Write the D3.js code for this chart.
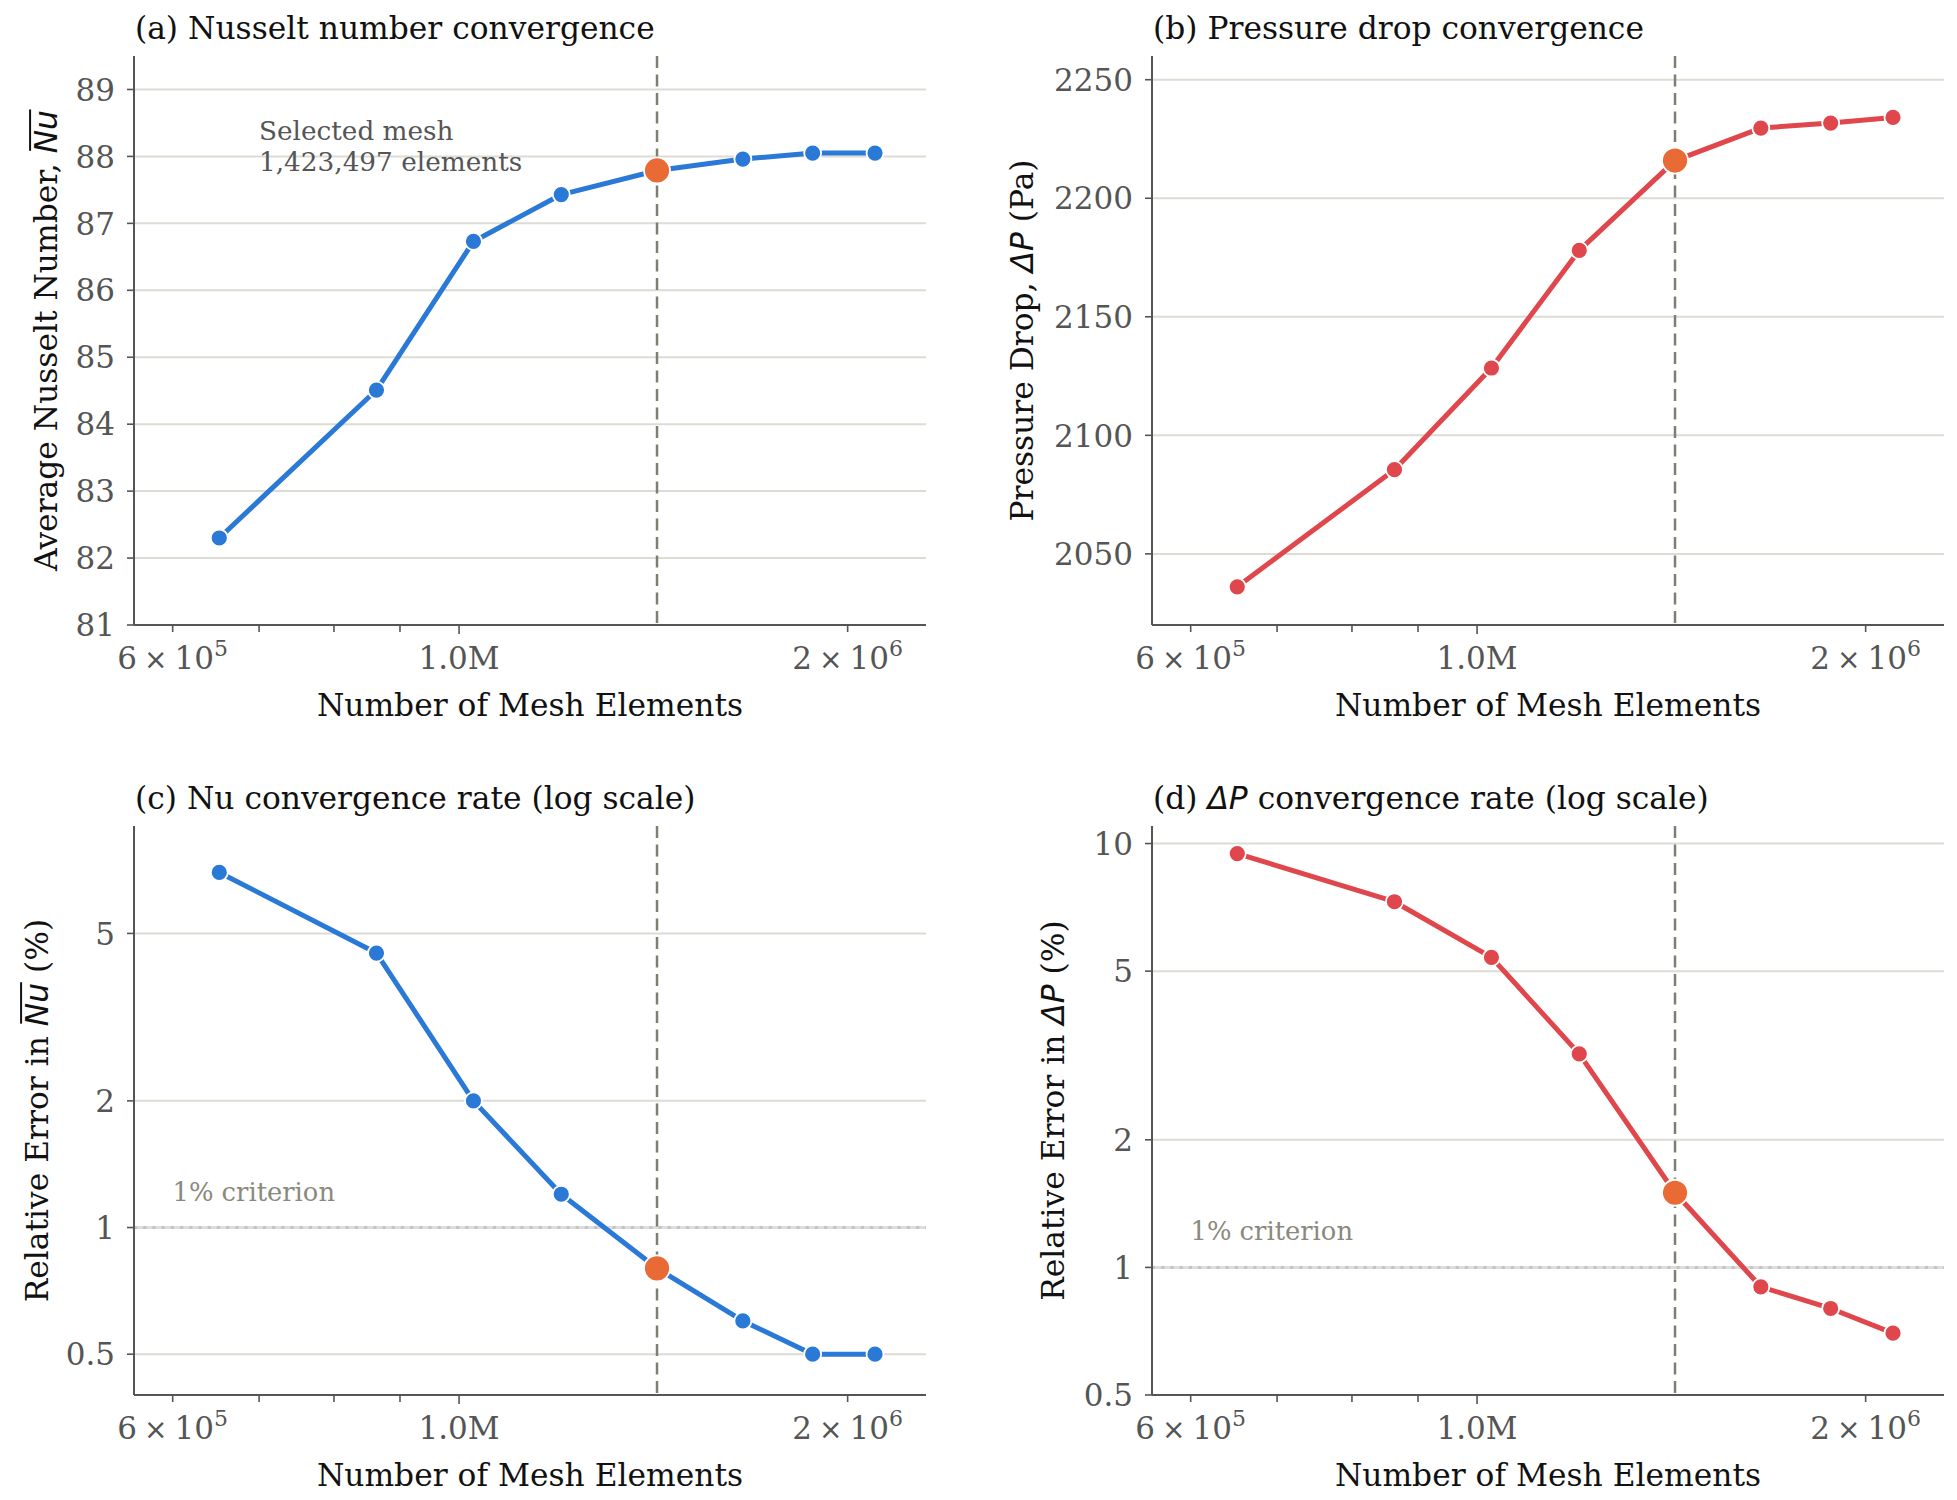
<!DOCTYPE html>
<html><head><meta charset="utf-8">
<script src="https://cdn.jsdelivr.net/npm/d3@7"></script>
<style>
body{margin:0;background:#fff;}
svg text{font-family:"DejaVu Serif",serif;}
</style></head><body>
<svg id="chart" width="1957" height="1500"></svg>
<script>
// ---------------- data ----------------
const meshElements = [652000, 863000, 1026000, 1200000, 1423497, 1659000, 1879000, 2100000];
const nusselt      = [82.30, 84.51, 86.73, 87.43, 87.79, 87.96, 88.05, 88.05];
const pressureDrop = [2036.1, 2085.5, 2128.4, 2178.0, 2215.9, 2229.6, 2231.7, 2234.1];
const errorNu      = [6.98, 4.49, 2.00, 1.20, 0.80, 0.60, 0.50, 0.50];
const errorDP      = [9.47, 7.29, 5.39, 3.19, 1.50, 0.90, 0.80, 0.70];
const selectedMesh = 1423497;
const criterionValue = 1;
const xTicks = [6e5, 7e5, 8e5, 9e5, 1e6, 2e6];
const xTickLabels = new Map([[6e5, ["6", "10", "5"]], [1e6, ["1.0M", null, null]], [2e6, ["2", "10", "6"]]]);
const yTicksNu = [81, 82, 83, 84, 85, 86, 87, 88, 89];
const yTicksDP = [2050, 2100, 2150, 2200, 2250];
const yTicksErrNu = [0.5, 1, 2, 5];
const yTicksErrDP = [0.5, 1, 2, 5, 10];
const xLabel = "Number of Mesh Elements";
const annotationLines = ["Selected mesh", "1,423,497 elements"];
const criterionLabel = "1% criterion";

// ---------------- style ----------------
const BLUE = "#2a79d7", RED = "#e0474c", ORANGE = "#ea6a35";
const W = 792, H = 569;
const FS = 31.3, TFS = 31;
const svg = d3.select("#chart");

const xScale = d3.scaleLog().domain([5.6e5, 2.3e6]).range([0, W]);

const panels = [
  { pos: [134, 56], values: nusselt, y: d3.scaleLinear().domain([81, 89.5]).range([H, 0]), ticks: yTicksNu, fmt: d => d3.format("d")(d), color: BLUE,
    title: [["(a) Nusselt number convergence"]],
    ylabel: [["Average Nusselt Number, "], ["Nu", "mo"]], ylabelOff: 77, annotate: true },
  { pos: [1152, 56], values: pressureDrop, y: d3.scaleLinear().domain([2020, 2260]).range([H, 0]), ticks: yTicksDP, fmt: d => d3.format("d")(d), color: RED,
    title: [["(b) Pressure drop convergence"]],
    ylabel: [["Pressure Drop, "], ["ΔP", "mi"], [" (Pa)"]], ylabelOff: 119 },
  { pos: [134, 826], values: errorNu, y: d3.scaleLog().domain([0.4, 9]).range([H, 0]), ticks: yTicksErrNu, fmt: d => String(d), color: BLUE,
    title: [["(c) Nu convergence rate (log scale)"]],
    ylabel: [["Relative Error in "], ["Nu", "mo"], [" (%)"]], ylabelOff: 86, criterion: true },
  { pos: [1152, 826], values: errorDP, y: d3.scaleLog().domain([0.5, 11]).range([H, 0]), ticks: yTicksErrDP, fmt: d => String(d), color: RED,
    title: [["(d) "], ["ΔP", "mi"], [" convergence rate (log scale)"]],
    ylabel: [["Relative Error in "], ["ΔP", "mi"], [" (%)"]], ylabelOff: 88, criterion: true }
];

function richText(textSel, parts, size) {
  const overlines = [];
  let idx = 0;
  parts.forEach(([t, st]) => {
    const ts = textSel.append("tspan").text(t);
    if (st === "mi" || st === "mo") {
      ts.style("font-family", "'DejaVu Sans', sans-serif").style("font-style", "oblique");
    }
    if (st === "mo") overlines.push([idx, idx + t.length - 1]);
    idx += t.length;
  });
  const node = textSel.node();
  const g = d3.select(node.parentNode);
  overlines.forEach(([a, b]) => {
    const ea = node.getExtentOfChar(a), eb = node.getExtentOfChar(b);
    const base = node.getStartPositionOfChar(a).y;
    const yy = base - size * 0.86;
    g.append("line").attr("x1", ea.x + size * 0.08).attr("x2", eb.x + eb.width + size * 0.02)
      .attr("y1", yy).attr("y2", yy).attr("stroke", "#111").attr("stroke-width", 2);
  });
}

panels.forEach(p => {
  const g = svg.append("g").attr("transform", `translate(${p.pos[0]},${p.pos[1]})`);
  const y = p.y;

  // grid
  g.append("g").selectAll("line").data(p.ticks).join("line")
    .attr("x1", 0).attr("x2", W).attr("y1", d => y(d)).attr("y2", d => y(d))
    .attr("stroke", "#dcdbd4").attr("stroke-width", 2);

  // criterion line
  if (p.criterion) {
    g.append("line").attr("x1", 0).attr("x2", W).attr("y1", y(criterionValue)).attr("y2", y(criterionValue))
      .attr("stroke", "#dedddd").attr("stroke-width", 3);
    g.append("line").attr("x1", 0).attr("x2", W).attr("y1", y(criterionValue)).attr("y2", y(criterionValue))
      .attr("stroke", "#c4c4c0").attr("stroke-width", 3).attr("stroke-dasharray", "3.2,6");
    g.append("text").attr("x", 38.5).attr("y", y(criterionValue) - 27).attr("font-size", 25.8)
      .attr("fill", "#8a897c").text(criterionLabel);
  }

  // selected mesh vertical dashed line
  g.append("line").attr("x1", xScale(selectedMesh)).attr("x2", xScale(selectedMesh)).attr("y1", 0).attr("y2", H)
    .attr("stroke", "#7f7e72").attr("stroke-width", 2.5).attr("stroke-dasharray", "12,6.5");

  // annotation
  if (p.annotate) {
    const t = g.append("text").attr("font-size", 26.3).attr("fill", "#555");
    annotationLines.forEach((s, i) => t.append("tspan").attr("x", 125).attr("y", 84 + i * 31).text(s));
  }

  // spines
  g.append("line").attr("x1", 0).attr("x2", 0).attr("y1", 0).attr("y2", H).attr("stroke", "#555").attr("stroke-width", 2);
  g.append("line").attr("x1", 0).attr("x2", W).attr("y1", H).attr("y2", H).attr("stroke", "#555").attr("stroke-width", 2);

  // y ticks
  const yt = g.append("g").selectAll("g").data(p.ticks).join("g").attr("transform", d => `translate(0,${y(d)})`);
  yt.append("line").attr("x1", -7).attr("x2", 0).attr("stroke", "#555").attr("stroke-width", 1.6);
  yt.append("text").attr("x", -19).attr("y", 0).attr("dy", "0.36em").attr("text-anchor", "end")
    .attr("font-size", TFS).attr("fill", "#555").text(d => p.fmt(d));

  // x ticks
  const xt = g.append("g").selectAll("g").data(xTicks).join("g").attr("transform", d => `translate(${xScale(d)},${H})`);
  xt.append("line").attr("y1", 0).attr("y2", d => d === 1e6 ? 9 : 7).attr("stroke", "#555").attr("stroke-width", 1.6);
  xt.filter(d => xTickLabels.has(d)).append("text").attr("y", 44).attr("text-anchor", "middle")
    .attr("font-size", TFS).attr("fill", "#555")
    .each(function (d) {
      const [mant, base, sup] = xTickLabels.get(d);
      const t = d3.select(this);
      t.append("tspan").text(mant);
      if (base) {
        t.append("tspan").attr("dx", 7).style("font-family", "'DejaVu Sans', sans-serif").attr("font-size", 28).text("×");
        t.append("tspan").attr("dx", 7).text(base);
        t.append("tspan").attr("dy", -13).attr("font-size", 22).text(sup);
      }
    });

  // x label
  g.append("text").attr("x", W / 2).attr("y", H + 91).attr("text-anchor", "middle")
    .attr("font-size", FS).attr("fill", "#111").text(xLabel);

  // y label
  const yg = g.append("g").attr("transform", `translate(${-p.ylabelOff},${H / 2}) rotate(-90)`);
  const ylt = yg.append("text").attr("text-anchor", "middle").attr("font-size", FS).attr("fill", "#111");
  richText(ylt, p.ylabel, FS);

  // title
  const tg = g.append("g");
  const tt = tg.append("text").attr("x", 1).attr("y", -17).attr("font-size", FS).attr("fill", "#111");
  richText(tt, p.title, FS);

  // data line
  const pts = meshElements.map((m, i) => [m, p.values[i]]);
  g.append("path").datum(pts)
    .attr("d", d3.line().x(d => xScale(d[0])).y(d => y(d[1])))
    .attr("fill", "none").attr("stroke", p.color).attr("stroke-width", 5).attr("stroke-linejoin", "round");

  g.append("g").selectAll("circle").data(pts.filter(d => d[0] !== selectedMesh)).join("circle")
    .attr("cx", d => xScale(d[0])).attr("cy", d => y(d[1])).attr("r", 8.5)
    .attr("fill", p.color).attr("stroke", "#fff").attr("stroke-width", 1.8);
  g.append("g").selectAll("circle").data(pts.filter(d => d[0] === selectedMesh)).join("circle")
    .attr("cx", d => xScale(d[0])).attr("cy", d => y(d[1])).attr("r", 13)
    .attr("fill", ORANGE).attr("stroke", "#fff").attr("stroke-width", 1.8);
});
</script>
</body></html>
